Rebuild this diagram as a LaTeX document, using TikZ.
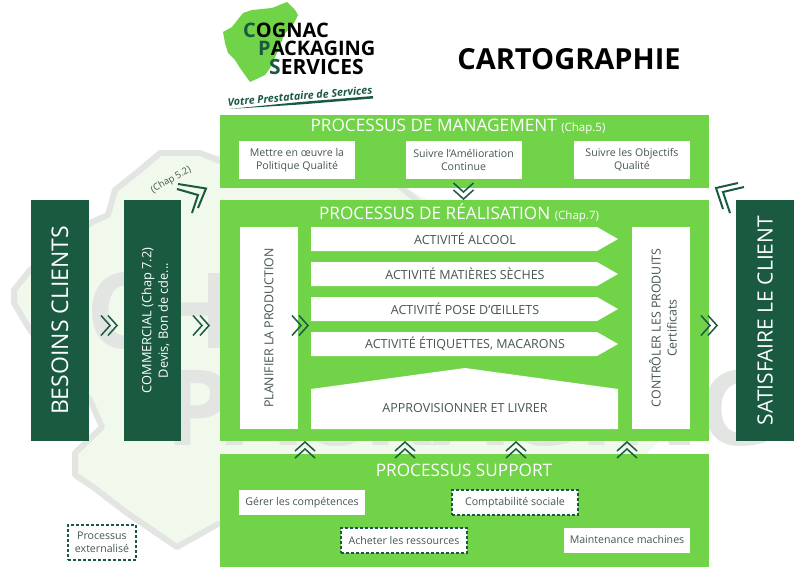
\documentclass[tikz,border=0pt]{standalone}
\usepackage{fontspec}
\setmainfont{Open Sans}
\usetikzlibrary{positioning}
\definecolor{cpsgreen}{HTML}{70D348}
\definecolor{cpsdark}{HTML}{1A5A40}
\definecolor{cpstext}{HTML}{46564F}
\definecolor{cpspale}{HTML}{F1F8EC}
\definecolor{cpsgrey}{HTML}{E3E5E3}
\newcommand{\chapfont}{\fontsize{11.5}{12}\selectfont}
\tikzset{
    panel/.style = {rectangle, fill=cpsgreen, inner sep=0pt, minimum width=489pt},
    darkbox/.style = {rectangle, fill=cpsdark, text=white, inner sep=0pt, minimum height=241pt, align=center},
    sidebox/.style = {rectangle, fill=white, text=cpstext, inner sep=0pt, minimum width=58pt, minimum height=202pt, align=center, font=\fontsize{12.4}{16}\selectfont},
    taskbox/.style = {rectangle, fill=white, text=cpstext, inner sep=0pt, minimum width=116pt, minimum height=38pt, align=center, font=\fontsize{10.6}{13.5}\selectfont},
    supbox/.style = {taskbox, minimum width=126pt, minimum height=25pt},
    extbox/.style = {draw=cpsdark, line width=1.2pt, dash pattern=on 3pt off 2pt},
    acttext/.style = {text=cpstext, inner sep=0pt, font=\fontsize{12.5}{14}\selectfont},
    headtext/.style = {text=white, inner sep=0pt, font=\fontsize{17.2}{20}\selectfont},
    chevline/.style = {draw=cpsdark, line width=1.5pt},
    wmark/.style = {text=cpsgrey, inner sep=0pt, anchor=base west, font=\fontsize{105}{105}\bfseries\selectfont},
    logotext/.style = {text=black, inner sep=0pt, anchor=base west, font=\fontsize{20}{20}\bfseries\selectfont},
    pics/chev/.style = {code={
        \draw[chevline] (-9,-10) -- (0,0) -- (-9,10);
        \draw[chevline] (-16,-10) -- (-7,0) -- (-16,10);
    }}
}

\begin{document}
\begin{tikzpicture}[x=1pt,y=-1pt]
\useasboundingbox (0,0) rectangle (810,572);
% watermark behind everything
\fill[cpspale] (140,170) -- (160,153) -- (200,153) -- (260,160) -- (410,190) -- (600,300) -- (660,440) -- (600,500) -- (420,530) -- (218,524) -- (177,547) -- (127,513) -- (93,487) -- (75,475) -- (75,453) -- (102,427) -- (90,400) -- (30,330) -- (14,303) -- (14,290) -- (30,270) -- (92,222) -- (108,215) -- (115,190) -- cycle;
\draw[cpsgrey,line width=6pt,line join=round] (230,524) -- (218,524) -- (177,547) -- (127,513) -- (93,487) -- (75,475) -- (75,453) -- (102,427) -- (90,400) -- (30,330) -- (14,303) -- (14,290) -- (30,270) -- (92,222) -- (108,215) -- (115,190) -- (140,170) -- (160,153) -- (200,153) -- (230,165);
\draw[cpsgrey,line width=6pt] (396,183) -- (420,203);
\node[wmark] (wmarka) at (86,348) {CHA};
\node[wmark] (wmarkb) at (165,445) {PACKAGING};
%
% logo
\fill[cpsgreen] (223,32) -- (232,27) -- (243,13) -- (252,10) -- (272,8) -- (287,2) -- (295,10) -- (298,15) -- (292,27) -- (285,33) -- (277,53) -- (270,68) -- (265,75) -- (250,82) -- (240,68) -- (235,60) -- (228,53) -- (225,43) -- cycle;
\node[logotext] (cognac) at (243,37.5) {\textcolor{cpsdark}{C}OGNAC};
\node[logotext] (packaging) at (258,56) {\textcolor{cpsdark}{P}ACKAGING};
\node[logotext,font=\fontsize{21}{21}\bfseries\selectfont] (services) at (269,75) {\textcolor{cpsdark}{S}ERVICES};
\node[text=cpsdark, inner sep=0pt, rotate=5, font=\fontsize{10.7}{12}\bfseries\itshape\selectfont] (slogan) at (300,96) {Votre Prestataire de Services};
\fill[cpsdark] (229,109) -- (300,102) -- (373,96) -- (373,98.5) -- (300,104.5) -- cycle;
\node[text=black, inner sep=0pt, font=\fontsize{29}{32}\bfseries\selectfont] (title) at (569,59) {CARTOGRAPHIE};
%
% panels
\node[panel, minimum height=73pt] (mgmt) at (464.5,151.5) {};
\node[panel, minimum height=241pt] (real) at (464.5,320.5) {};
\node[panel, minimum height=113pt] (supp) at (464.5,510.5) {};
\node[headtext] (mgmthead) at (458,127) {PROCESSUS DE MANAGEMENT {\chapfont(Chap.5)}};
\node[headtext] (realhead) at (459,213) {PROCESSUS DE RÉALISATION {\chapfont(Chap.7)}};
\node[headtext] (supphead) at (464,470) {PROCESSUS SUPPORT};
%
% management tasks
\node[taskbox] (politique) at (297,160) {\raisebox{-0.5pt}{\parbox{116pt}{\centering Mettre en œuvre la\\Politique Qualité}}};
\node[taskbox] (amelior) at (463.5,160) {\raisebox{-0.5pt}{\parbox{116pt}{\centering Suivre l’Amélioration\\Continue}}};
\node[taskbox] (objectifs) at (632,160) {\raisebox{-0.5pt}{\parbox{116pt}{\centering Suivre les Objectifs\\Qualité}}};
%
% outer boxes
\node[darkbox, minimum width=58pt] (besoins) at (60,320.5) {\rotatebox{90}{\fontsize{23}{26}\selectfont BESOINS CLIENTS}};
\node[darkbox, minimum width=57pt] (commercial) at (152.5,320.5) {\hspace*{6pt}\rotatebox{90}{\parbox{180pt}{\centering\fontsize{12.8}{16.5}\selectfont COMMERCIAL (Chap 7.2)\\Devis, Bon de cde...}}};
\node[darkbox, minimum width=58pt] (satisfaire) at (765,320.5) {\rotatebox{90}{\fontsize{21}{26}\selectfont SATISFAIRE LE CLIENT}};
\node[text=cpstext, inner sep=0pt, rotate=30, font=\fontsize{9.5}{11}\selectfont] (chapcom) at (171,180) {(Chap 5.2)};
%
% inner side boxes
\node[sidebox] (planifier) at (269,328) {\rotatebox{90}{PLANIFIER LA PRODUCTION}};
\node[sidebox] (controler) at (661,328) {\hspace*{4pt}\rotatebox{90}{\parbox{180pt}{\centering CONTRÔLER LES PRODUITS\\Certificats}}};
%
% activities
\fill[white] (311,227) -- (597,227) -- (618,239) -- (597,251) -- (311,251) -- cycle;
\fill[white] (311,262) -- (597,262) -- (618,274) -- (597,286) -- (311,286) -- cycle;
\fill[white] (311,297) -- (597,297) -- (618,309) -- (597,321) -- (311,321) -- cycle;
\fill[white] (311,332) -- (597,332) -- (618,344) -- (597,356) -- (311,356) -- cycle;
\fill[white] (311,389) -- (465,368) -- (618,389) -- (618,429) -- (311,429) -- cycle;
\node[acttext] (alcool) at (465,239) {ACTIVITÉ ALCOOL};
\node[acttext] (seches) at (465,274) {ACTIVITÉ MATIÈRES SÈCHES};
\node[acttext] (oeillets) at (465,309) {ACTIVITÉ POSE D’ŒILLETS};
\node[acttext] (etiquettes) at (465,344) {ACTIVITÉ ÉTIQUETTES, MACARONS};
\node[acttext] (appro) at (465,408) {APPROVISIONNER ET LIVRER};
%
% support tasks
\node[supbox] (competences) at (302,502.5) {Gérer les compétences};
\node[supbox, extbox] (compta) at (515,502.5) {Comptabilité sociale};
\node[supbox, extbox] (acheter) at (404,540.5) {Acheter les ressources};
\node[supbox] (maintenance) at (627,540) {Maintenance machines};
\node[taskbox, extbox, minimum width=68pt, minimum height=35pt] (externe) at (102,542.5) {Processus\\externalisé};
%
% chevrons
\pic at (117,325.5) {chev};
\pic at (209,325.5) {chev};
\pic at (308,325.5) {chev};
\pic at (717,325.5) {chev};
\pic[rotate=-90] at (463.5,199) {chev};
\pic[rotate=90] at (305,442) {chev};
\pic[rotate=90] at (405,442) {chev};
\pic[rotate=90] at (516,442) {chev};
\pic[rotate=90] at (627,442) {chev};
\draw[chevline,line width=2pt] (178,184) -- (206,188.5) -- (198,208);
\draw[chevline,line width=2pt] (177,189) -- (198,195) -- (192,213);
\draw[chevline,line width=2pt] (738,183) -- (716,188) -- (723,209);
\draw[chevline,line width=2pt] (744,187) -- (723,192) -- (730,213);
\end{tikzpicture}
\end{document}
